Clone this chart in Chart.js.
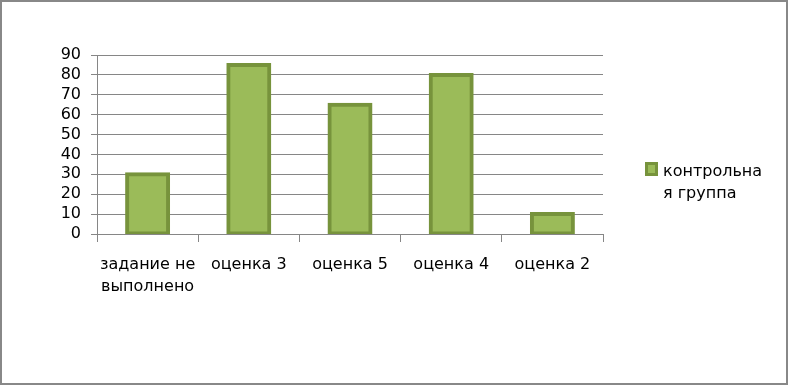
<!DOCTYPE html>
<html>
<head>
<meta charset="utf-8">
<script src="https://cdn.jsdelivr.net/npm/chart.js@4.4.0/dist/chart.umd.min.js"></script>
<style>
html,body{margin:0;padding:0;background:#fff;}
#wrap{position:relative;width:788px;height:385px;box-sizing:border-box;border:2px solid #888888;}
canvas{position:absolute;left:-2px;top:-2px;}
</style>
</head>
<body>
<div id="wrap"><canvas id="c" width="788" height="385"></canvas></div>
<script>
const categories = [["задание не", "выполнено"], "оценка 3", "оценка 5", "оценка 4", "оценка 2"];
const seriesName = "контрольная группа";
const legendLines = ["контрольна", "я группа"];
const values = [30, 85, 65, 80, 10];
const yTicks = [0, 10, 20, 30, 40, 50, 60, 70, 80, 90];

const FONT = "'DejaVu Sans'";
const FILL = "#9BBB59";
const EDGE = "#77933C";

const legendPlugin = {
  id: 'sideLegend',
  afterDraw(chart) {
    const ctx = chart.ctx;
    ctx.save();
    ctx.fillStyle = EDGE;
    ctx.fillRect(645, 162, 13, 14);
    ctx.fillStyle = FILL;
    ctx.fillRect(648, 165, 7, 8);
    ctx.fillStyle = "#000";
    ctx.font = "16px " + FONT;
    ctx.textBaseline = "alphabetic";
    ctx.textAlign = "left";
    legendLines.forEach((t, i) => ctx.fillText(t, 663, 176 + i * 22));
    ctx.restore();
  }
};

new Chart(document.getElementById('c'), {
  type: 'bar',
  data: {
    labels: categories,
    datasets: [{
      label: seriesName,
      data: values,
      backgroundColor: FILL,
      borderColor: EDGE,
      borderWidth: 4,
      borderSkipped: false,
      categoryPercentage: 1,
      barPercentage: 0.405,
      inflateAmount: 2
    }]
  },
  options: {
    responsive: false,
    animation: false,
    devicePixelRatio: 1,
    layout: { padding: { left: 0, top: 55, right: 185, bottom: 41 } },
    plugins: { legend: { display: false }, tooltip: { enabled: false } },
    scales: {
      x: {
        grid: { display: true, drawOnChartArea: false, drawTicks: true, tickLength: 8, color: '#868686', offset: true },
        border: { display: true, color: '#868686', width: 1, z: 1 },
        ticks: { color: '#000', font: { family: FONT, size: 16, lineHeight: 1.375 }, padding: 12, maxRotation: 0, autoSkip: false },
        afterFit(s) { s.height = 110; }
      },
      y: {
        min: 0, max: 90,
        afterBuildTicks(s) { s.ticks = yTicks.map(v => ({ value: v })); },
        grid: { color: '#868686', lineWidth: 1, tickLength: 6, drawTicks: true },
        border: { display: true, color: '#868686', width: 1 },
        ticks: { color: '#000', font: { family: FONT, size: 16 }, padding: 10, autoSkip: false },
        afterFit(s) { s.width = 97; }
      }
    }
  },
  plugins: [legendPlugin]
});
</script>
</body>
</html>
